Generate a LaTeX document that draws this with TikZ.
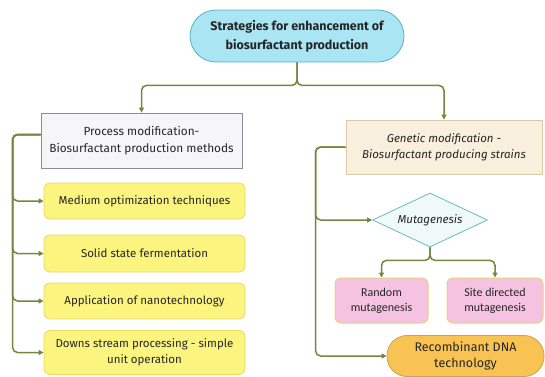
\documentclass[tikz,border=0pt]{standalone}
\usepackage{fontspec}
\setmainfont{Fira Sans}
\newfontfamily\calibri{Carlito}
\usepackage{tikz}
\usetikzlibrary{arrows.meta, positioning, shapes.geometric, calc}
\definecolor{branch}{HTML}{72883E}
\definecolor{skyfill}{HTML}{A9E5F3}
\definecolor{skyline}{HTML}{5AAFCB}
\definecolor{greyfill}{HTML}{F6F6F8}
\definecolor{greyline}{HTML}{8C8A9A}
\definecolor{sandfill}{HTML}{F8EFDD}
\definecolor{sandline}{HTML}{D9C9A6}
\definecolor{lemon}{HTML}{FBF47E}
\definecolor{lemonline}{HTML}{E9DB63}
\definecolor{rose}{HTML}{F5C3E1}
\definecolor{roseline}{HTML}{E8D17E}
\definecolor{amber}{HTML}{F8C352}
\definecolor{amberline}{HTML}{C9A35A}
\definecolor{mint}{HTML}{EEF9F8}
\definecolor{mintline}{HTML}{6DBBB8}
\begin{document}
\begin{tikzpicture}[
  x=1pt, y=-1pt,
  every node/.style={align=center, inner sep=2pt, text=black!85},
  goalchip/.style={rectangle, rounded corners=26pt, draw=skyline, line width=0.8pt,
                   fill=skyfill, minimum width=214pt, minimum height=52pt,
                   font=\fontsize{12.5}{19}\selectfont\bfseries},
  headbox/.style={rectangle, line width=0.8pt, minimum height=55pt,
                  font=\fontsize{11.8}{17}\selectfont},
  procbox/.style={headbox, draw=greyline, fill=greyfill, minimum width=201pt},
  genbox/.style={headbox, draw=sandline, fill=sandfill, minimum width=196pt,
                 minimum height=54pt, font=\fontsize{11.5}{16}\selectfont\itshape},
  stepchip/.style={rectangle, rounded corners=6pt, draw=lemonline, line width=0.8pt,
                   fill=lemon, minimum width=201pt, minimum height=36pt,
                   font=\fontsize{11.5}{16}\selectfont},
  decide/.style={diamond, draw=mintline, line width=0.8pt, fill=mint, aspect=2.1,
                 inner sep=0pt, minimum width=115pt, minimum height=54pt,
                 font=\fontsize{11.5}{16}\selectfont\itshape},
  mutbox/.style={rectangle, rounded corners=6pt, draw=roseline, line width=1pt,
                 fill=rose, minimum height=45pt,
                 font=\calibri\fontsize{12}{15}\selectfont},
  dnachip/.style={rectangle, rounded corners=20pt, draw=amberline, line width=0.8pt,
                  fill=amber, minimum width=157pt, minimum height=41pt,
                  font=\fontsize{12.5}{16}\selectfont},
  link/.style={draw=branch, line width=1.5pt, rounded corners=5pt,
               -{Triangle[length=5pt, width=5pt]}}
]
  \useasboundingbox[fill=white] (0,0) rectangle (545,376);

  \node[goalchip] (goal) at (297,36) {Strategies for enhancement of\\biosurfactant production};

  % process side
  \node[procbox] (proc) at (141.5,140.5) {Process modification-\\Biosurfactant production methods};
  \node[stepchip] (med) at (144.5,201) {Medium optimization techniques};
  \node[stepchip, minimum height=37pt] (solid) at (144.5,253.5) {Solid state fermentation};
  \node[stepchip] (nano) at (144.5,301) {Application of nanotechnology};
  \node[stepchip, minimum height=44pt] (down) at (144.5,352.5) {Downs stream processing - simple\\unit operation};

  % genetic side
  \node[genbox] (gen) at (444,147) {Genetic modification -\\Biosurfactant producing strains};
  \node[decide] (mut) at (430,220) {Mutagenesis};
  \node[mutbox, minimum width=93pt] (rand) at (381.5,300.5) {Random\\mutagenesis};
  \node[mutbox, minimum width=96pt] (site) at (495,300.5) {Site directed\\mutagenesis};
  \node[dnachip] (rdna) at (465.5,356) {Recombinant DNA\\technology};

  \draw[link] (goal.south) -- ++(0,23) -| (proc.north);
  \draw[link] (goal.south) -- ++(0,23) -| (gen.north);

  \foreach \n in {med, solid, nano, down}
    \draw[link] ($(proc.west)+(0,-6)$) -- ++(-28,0) |- (\n.west);

  \draw[link] (gen.west) -- ++(-30,0) |- (mut.west);
  \draw[link] (gen.west) -- ++(-30,0) |- (rdna.west);

  \draw[link] (mut.south) -- ++(0,13) -| (rand.north);
  \draw[link] (mut.south) -- ++(0,13) -| (site.north);
\end{tikzpicture}
\end{document}
